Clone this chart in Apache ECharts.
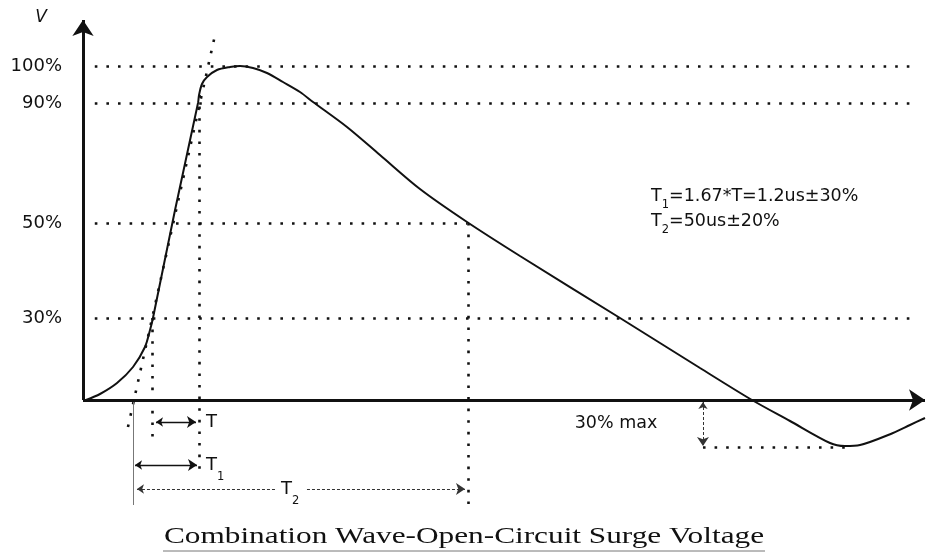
<!DOCTYPE html>
<html>
<head>
<meta charset="utf-8">
<script src="https://cdn.jsdelivr.net/npm/echarts@6/dist/echarts.min.js"></script>
<style>
html,body{margin:0;padding:0;background:#fff;}
#chart{width:927px;height:552px;}
</style>
</head>
<body>
<div id="chart"></div>
<script>
// ---- data (diagram units: x arbitrary time, y = % of drawn scale) ----
const curveX = [0.36,2.02,4.04,5.94,7.36,7.96,8.31,10.93,13.66,13.78,14.13,14.73,15.91,17.46,18.65,20.19,21.85,23.75,25.77,27.32,31.35,35.27,40.02,45.61,51.90,63.78,73.28,79.45,83.97,88.72,90.5,92.28,96.2,98.22,100];
const curveY = [0,1.8,5.1,9.9,15.9,21.0,24.6,57.0,89.1,91.5,94.8,96.9,99.0,99.9,100.2,99.6,98.1,95.4,92.4,89.4,81.9,73.5,63.3,53.4,43.2,24.6,9.6,0,-6.3,-12.9,-13.8,-13.5,-9.9,-7.5,-5.4];

const levelValues = [100.2, 89.1, 53.1, 24.6];
const levelLabels = ['100%', '90%', '50%', '30%'];
const levelEndX = [98.2, 98.2, 45.6, 98.2];
const levelStartX = 1.4;

const frontLine = [[5.34, -8.1], [15.68, 109.5]];
const dropT90 = [[13.78, 91.5], [13.78, -21]];
const dropT30 = [[8.19, 24.6], [8.19, -11.1]];
const dropT50 = [[45.72, 53.1], [45.72, -31.5]];
const originLine = [[5.94, 0], [5.94, -31.5]];
const undershootLine = [[73.63, -14.1], [90.5, -14.1]];

const arrowT = [[8.67, -6.6], [13.42, -6.6]];
const arrowT1 = [[6.18, -19.5], [13.54, -19.5]];
const arrowT2 = [[6.41, -26.7], [45.37, -26.7]];
const arrowMax = [[73.63, -0.6], [73.63, -13.8]];

const xAxisLine = [[0, 0], [100, 0]];
const yAxisLine = [[0, 0], [0, 114]];

const labelT = { pos: [14.6, -6.6], text: '{b|T}' };
const labelT1 = { pos: [14.6, -19.5], text: '{b|T}{bs|1}' };
const labelT2 = { pos: [24.6, -26.7], text: '{b|T}{bs|2}' };
const labelMax = { pos: [58.4, -6.9], text: '{m|30% max}' };
const formula1 = { pos: [67.46, 61.2], text: '{m|T}{s|1}{m|=1.67*T=1.2us±30%}' };
const formula2 = { pos: [67.46, 53.7], text: '{m|T}{s|2}{m|=50us±20%}' };

const titleText = 'Combination Wave-Open-Circuit Surge Voltage';

// ---- chart ----
const chart = echarts.init(document.getElementById('chart'));
const ink = '#111';
const sans = 'DejaVu Sans';
const dotStyle = { color: '#111', width: 2.6, type: [2.6, 9], cap: 'butt', opacity: 1 };
const rich = {
  m: { fontFamily: sans, fontSize: 17.5, color: ink, lineHeight: 24, verticalAlign: 'top' },
  s: { fontFamily: sans, fontSize: 11.5, color: ink, lineHeight: 10, verticalAlign: 'bottom' },
  b: { fontFamily: sans, fontSize: 18, color: ink, lineHeight: 27, verticalAlign: 'top' },
  bs: { fontFamily: sans, fontSize: 11.5, color: ink, lineHeight: 12, verticalAlign: 'bottom' }
};

function seg(c) { return { coords: c }; }

const levelSegs = levelValues.map((v, i) => seg([[levelStartX, v], [levelEndX[i], v]]));

function textPoint(t, opts) {
  return {
    value: t.pos,
    label: Object.assign({ show: true, formatter: t.text, rich: rich, color: ink, position: 'right', distance: 0, offset: [0, 4.5] }, opts || {})
  };
}

chart.setOption({
  animation: false,
  backgroundColor: '#fff',
  grid: { left: 83, right: 2, top: 20, bottom: 42 },
  xAxis: {
    type: 'value', min: 0, max: 100,
    axisLine: { show: false }, axisTick: { show: false }, axisLabel: { show: false }, splitLine: { show: false }
  },
  yAxis: {
    type: 'value', min: -33, max: 114,
    name: 'V', nameLocation: 'end', nameGap: 2,
    nameTextStyle: { fontFamily: sans, fontStyle: 'italic', fontSize: 17, color: ink, align: 'right', verticalAlign: 'middle', padding: [0, 36, 0, 0] },
    axisLine: { show: false }, axisTick: { show: false }, splitLine: { show: false },
    axisLabel: {
      customValues: levelValues,
      formatter: function (v) {
        let best = 0;
        levelValues.forEach((lv, i) => { if (Math.abs(lv - v) < Math.abs(levelValues[best] - v)) best = i; });
        return levelLabels[best];
      },
      margin: 21, fontFamily: sans, fontSize: 18, color: ink
    }
  },
  series: [
    { type: 'lines', coordinateSystem: 'cartesian2d', clip: false, silent: true,
      data: levelSegs.concat([seg(frontLine), seg(dropT90), seg(dropT30), seg(dropT50), seg(undershootLine)]),
      symbol: 'none', lineStyle: dotStyle },
    { type: 'lines', coordinateSystem: 'cartesian2d', clip: false, silent: true,
      data: [seg(originLine)], symbol: 'none', lineStyle: { color: '#777', width: 1, opacity: 1 } },
    { type: 'lines', coordinateSystem: 'cartesian2d', clip: false, silent: true,
      data: [seg(arrowT), seg(arrowT1)], symbol: ['arrow', 'arrow'], symbolSize: [7, 9],
      lineStyle: { color: ink, width: 1.3, opacity: 1 } },
    { type: 'lines', coordinateSystem: 'cartesian2d', clip: false, silent: true,
      data: [seg(arrowT2), seg(arrowMax)], symbol: ['arrow', 'arrow'], symbolSize: [7, 9],
      lineStyle: { color: '#333', width: 1, type: [3, 2], opacity: 1 } },
    { type: 'lines', coordinateSystem: 'cartesian2d', clip: false, silent: true,
      data: [seg(xAxisLine), seg(yAxisLine)], symbol: ['none', 'arrow'], symbolSize: [12, 16],
      lineStyle: { color: '#111', width: 3, opacity: 1 } },
    { type: 'line', clip: false, silent: true, symbol: 'none', smooth: 0.3,
      data: curveX.map((x, i) => [x, curveY[i]]),
      lineStyle: { color: '#111', width: 2 } },
    { type: 'scatter', clip: false, silent: true, symbolSize: 0, itemStyle: { opacity: 1 },
      data: [
        textPoint(labelT), textPoint(labelT1), textPoint(labelMax, { offset: [0, 3] }),
        textPoint(formula1, { offset: [0, 3] }), textPoint(formula2, { offset: [0, 3] }),
        textPoint(labelT2, { position: 'inside', backgroundColor: '#fff', padding: [0, 6], offset: [0, 4.5] })
      ] }
  ],
  graphic: [
    { type: 'text', x: 464, y: 537, scaleX: 1.36, silent: true,
      style: { text: titleText, textAlign: 'center', textVerticalAlign: 'middle', fill: '#111',
               font: '23px "Liberation Serif"' } },
    { type: 'line', shape: { x1: 163, y1: 551, x2: 765, y2: 551 }, style: { stroke: '#777', lineWidth: 1 }, silent: true }
  ]
});
</script>
</body>
</html>
